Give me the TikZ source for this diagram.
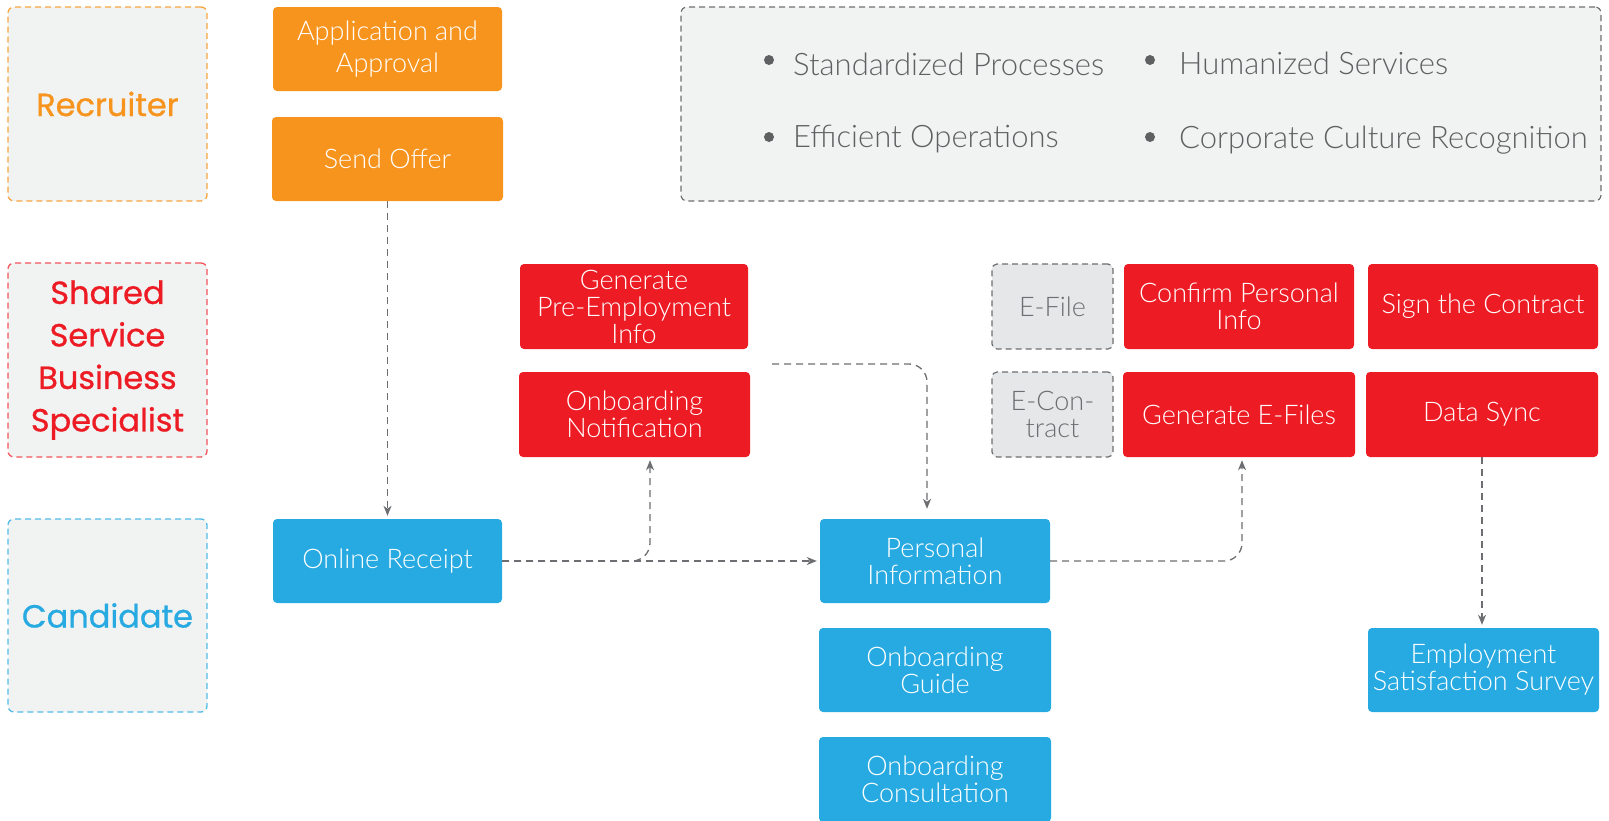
\documentclass[tikz,border=0pt]{standalone}
\usepackage{fontspec}
\setmainfont{Lato}
\newfontfamily\thinfont{Lato Light}
\newfontfamily\labelfont[FakeBold=0.8]{Poppins}
\usetikzlibrary{arrows.meta}
\definecolor{corange}{HTML}{F7941D}
\definecolor{cred}{HTML}{ED1C24}
\definecolor{cblue}{HTML}{27AAE1}
\definecolor{lanefill}{HTML}{F1F2F2}
\definecolor{cgrey}{HTML}{6D6E71}
\definecolor{ctext}{HTML}{5F6062}
\definecolor{efill}{HTML}{E6E7E8}
\tikzset{
  lane/.style={rounded corners=6pt, fill=lanefill, dashed, dash pattern=on 6pt off 4pt, line width=1.3pt,
    align=center, inner sep=0pt, font=\labelfont\fontsize{32}{42.5}\selectfont},
  task/.style={rounded corners=4pt, text=white, align=center, inner sep=0pt,
    font=\thinfont\fontsize{27}{27}\selectfont},
  docbox/.style={rounded corners=5pt, fill=efill, draw=cgrey, dashed, dash pattern=on 6pt off 4pt, line width=1.2pt,
    text=cgrey, align=center, inner sep=0pt, font=\thinfont\fontsize{27}{27}\selectfont},
  conn/.style={draw=cgrey, dash pattern=on 7pt off 5pt, line width=1.3pt,
    -{Stealth[length=10pt,width=8pt,inset=3pt]}, shorten >=3pt},
  bul/.style={anchor=base west, inner sep=0pt, text=ctext, font=\thinfont\fontsize{31}{31}\selectfont}
}
\begin{document}
\begin{tikzpicture}[x=1pt,y=-1pt]
\useasboundingbox (0,0) rectangle (1609,820);
% lanes
\node[lane, draw=corange!85, text=corange, minimum width=199pt, minimum height=194pt] (lrec) at (107.5,104) {Recruiter};
\node[lane, draw=cred!75, text=cred, minimum width=199pt, minimum height=194pt] (lssc) at (107.5,360) {Shared\\Service\\Business\\Specialist};
\node[lane, draw=cblue!80, text=cblue, minimum width=199pt, minimum height=193pt] (lcand) at (107.5,615.5) {Candidate};
% summary box
\node[rounded corners=6pt, fill=lanefill, draw=cgrey, dashed, dash pattern=on 6pt off 4pt, line width=1.2pt,
  minimum width=920pt, minimum height=194pt, inner sep=0pt] (summary) at (1141,104) {};
\fill[ctext] (769,60) circle (5pt);
\fill[ctext] (769,137) circle (5pt);
\fill[ctext] (1150,60) circle (5pt);
\fill[ctext] (1150,137) circle (5pt);
\node[bul] (b1) at (793,75) {Standardized Processes};
\node[bul] (b2) at (1179,74) {Humanized Services};
\node[bul] (b3) at (793,147) {Efficient Operations};
\node[bul] (b4) at (1179,148) {Corporate Culture Recognition};
% recruiter tasks
\node[task, fill=corange, minimum width=229pt, minimum height=84pt] (appr) at (387.5,49) {Application and\\[5pt]Approval};
\node[task, fill=corange, minimum width=231pt, minimum height=84pt] (offer) at (387.5,159) {Send Offer};
% shared service tasks
\node[task, fill=cred, minimum width=228pt, minimum height=85pt] (genpre) at (634,306.5) {Generate\\Pre-Employment\\Info};
\node[task, fill=cred, minimum width=231pt, minimum height=85pt] (onot) at (634.5,414.5) {Onboarding\\Notification};
\node[docbox, minimum width=121pt, minimum height=85pt] (efile) at (1052.5,306.5) {E-File};
\node[docbox, minimum width=121pt, minimum height=85pt] (econ) at (1052.5,414.5) {E-Con-\\tract};
\node[task, fill=cred, minimum width=230pt, minimum height=85pt] (confirm) at (1239,306.5) {Confirm Personal\\Info};
\node[task, fill=cred, minimum width=232pt, minimum height=85pt] (gefiles) at (1239,414.5) {Generate E-Files};
\node[task, fill=cred, minimum width=230pt, minimum height=85pt] (sign) at (1483,306.5) {Sign the Contract};
\node[task, fill=cred, minimum width=232pt, minimum height=85pt] (dsync) at (1482,414.5) {Data Sync};
% candidate tasks
\node[task, fill=cblue, minimum width=229pt, minimum height=84pt] (orec) at (387.5,561) {Online Receipt};
\node[task, fill=cblue, minimum width=230pt, minimum height=84pt] (pinfo) at (935,561) {Personal\\Information};
\node[task, fill=cblue, minimum width=232pt, minimum height=84pt] (oguide) at (935,670) {Onboarding\\Guide};
\node[task, fill=cblue, minimum width=232pt, minimum height=85pt] (ocons) at (935,779.5) {Onboarding\\Consultation};
\node[task, fill=cblue, minimum width=231pt, minimum height=84pt] (esat) at (1483.5,670) {Employment\\Satisfaction Survey};
% connectors
\draw[conn] (offer.south) -- (orec.north);
\draw[conn] (orec.east) -- (pinfo.west);
\draw[conn, rounded corners=18pt] (orec.east) -| ([xshift=15.5pt]onot.south);
\coordinate (c4) at (772,364);
\draw[conn, rounded corners=18pt, shorten >=10pt] (c4) -| ([xshift=-8pt]pinfo.north);
\draw[conn, rounded corners=18pt] (pinfo.east) -| ([xshift=3pt]gefiles.south);
\draw[conn] (dsync.south) -- (dsync.south |- esat.north);
\end{tikzpicture}
\end{document}
